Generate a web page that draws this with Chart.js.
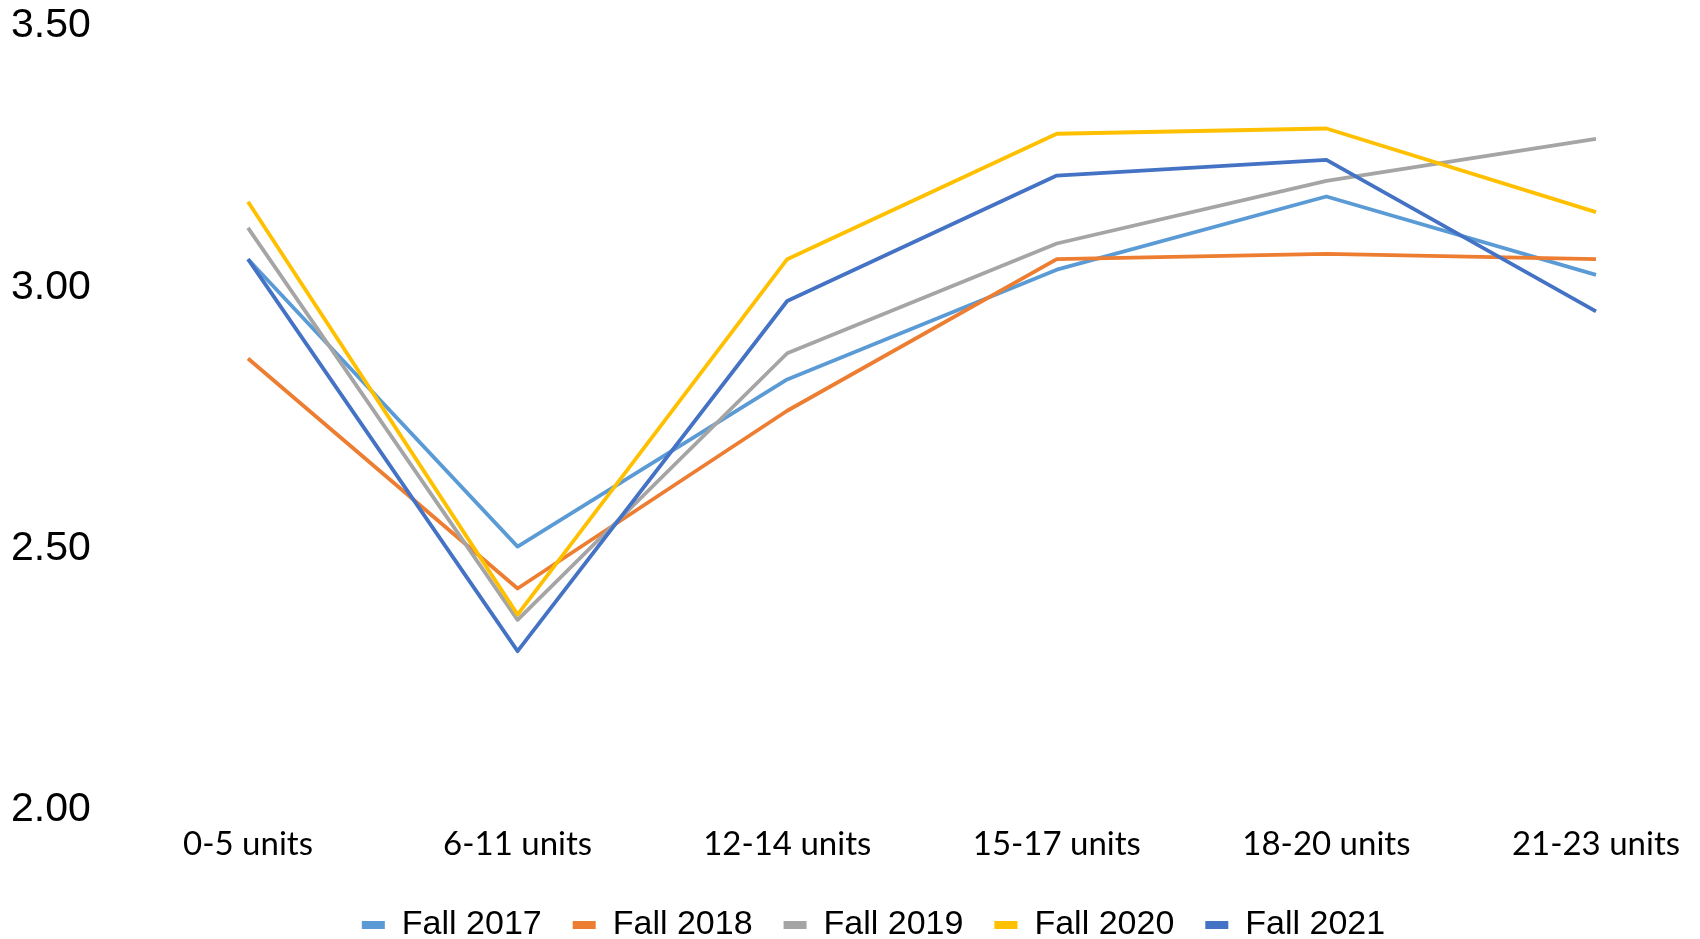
<!DOCTYPE html>
<html>
<head>
<meta charset="utf-8">
<title>Average GPA by units</title>
<script src="https://cdn.jsdelivr.net/npm/chart.js@4.4.0/dist/chart.umd.min.js"></script>
<style>
  html, body { margin: 0; padding: 0; background: #fff; overflow: hidden; }
  #wrap { width: 1700px; height: 939px; }
</style>
</head>
<body>
<div id="wrap"><canvas id="my-chart" width="1700" height="939"></canvas></div>
<script>
const unitBands = ['0-5 units', '6-11 units', '12-14 units', '15-17 units', '18-20 units', '21-23 units'];
const yTicks = [2.0, 2.5, 3.0, 3.5];

const fall2017 = [3.05, 2.50, 2.82, 3.03, 3.17, 3.02];
const fall2018 = [2.86, 2.42, 2.76, 3.05, 3.06, 3.05];
const fall2019 = [3.11, 2.36, 2.87, 3.08, 3.20, 3.28];
const fall2020 = [3.16, 2.37, 3.05, 3.29, 3.30, 3.14];
const fall2021 = [3.05, 2.30, 2.97, 3.21, 3.24, 2.95];

const terms = ['Fall 2017', 'Fall 2018', 'Fall 2019', 'Fall 2020', 'Fall 2021'];
const termValues = [fall2017, fall2018, fall2019, fall2020, fall2021];
const termColors = ['#5B9BD5', '#ED7D31', '#A5A5A5', '#FFC000', '#4472C4'];

// later terms sit on top of earlier ones
const datasets = terms.map((term, i) => ({
  label: term,
  data: termValues[i],
  borderColor: termColors[i],
  backgroundColor: termColors[i],
  borderWidth: 3.8,
  borderJoinStyle: 'round',
  pointRadius: 0,
  tension: 0,
  order: terms.length - i
}));

// legend row sits a bit right of the canvas centre
const legendShift = {
  id: 'legendShift',
  afterLayout(chart) {
    const lg = chart.legend;
    if (!lg) return;
    lg.left += 70;
    lg.right += 70;
  }
};

const ctx = document.getElementById('my-chart').getContext('2d');
const chart = new Chart(ctx, {
  type: 'line',
  data: { labels: unitBands, datasets: datasets },
  plugins: [legendShift],
  options: {
    responsive: false,
    animation: false,
    layout: { padding: { left: 11, right: 104, top: 0, bottom: 0 } },
    plugins: {
      tooltip: { enabled: false },
      legend: {
        position: 'bottom',
        maxHeight: 62,
        labels: {
          color: '#000',
          font: { family: 'Liberation Sans, Arial, sans-serif', size: 34 },
          boxWidth: 23,
          boxHeight: 8,
          padding: 31,
          sort: (a, b) => a.datasetIndex - b.datasetIndex,
          generateLabels: (c) => Chart.defaults.plugins.legend.labels.generateLabels(c).map(item => {
            item.lineWidth = 0;
            item.fillStyle = item.strokeStyle;
            return item;
          })
        }
      }
    },
    scales: {
      x: {
        offset: false,
        grid: { display: false, drawTicks: false },
        border: { display: false },
        ticks: {
          color: '#000',
          font: { family: 'Lato, sans-serif', size: 33 },
          padding: 17,
          maxRotation: 0,
          autoSkip: false
        },
        afterFit: (scale) => { scale.height = 69; }
      },
      y: {
        min: 2,
        max: 3.5,
        grid: { display: false, drawTicks: false },
        border: { display: false },
        afterBuildTicks: (scale) => { scale.ticks = yTicks.map(v => ({ value: v })); },
        ticks: {
          color: '#000',
          font: { family: 'Liberation Sans, Arial, sans-serif', size: 41, lineHeight: 1.17 },
          crossAlign: 'far',
          padding: 0,
          labelOffset: 2,
          autoSkip: false,
          callback: (v) => Number(v).toFixed(2)
        },
        afterFit: (scale) => { scale.width = 237; }
      }
    }
  }
});
</script>
</body>
</html>
